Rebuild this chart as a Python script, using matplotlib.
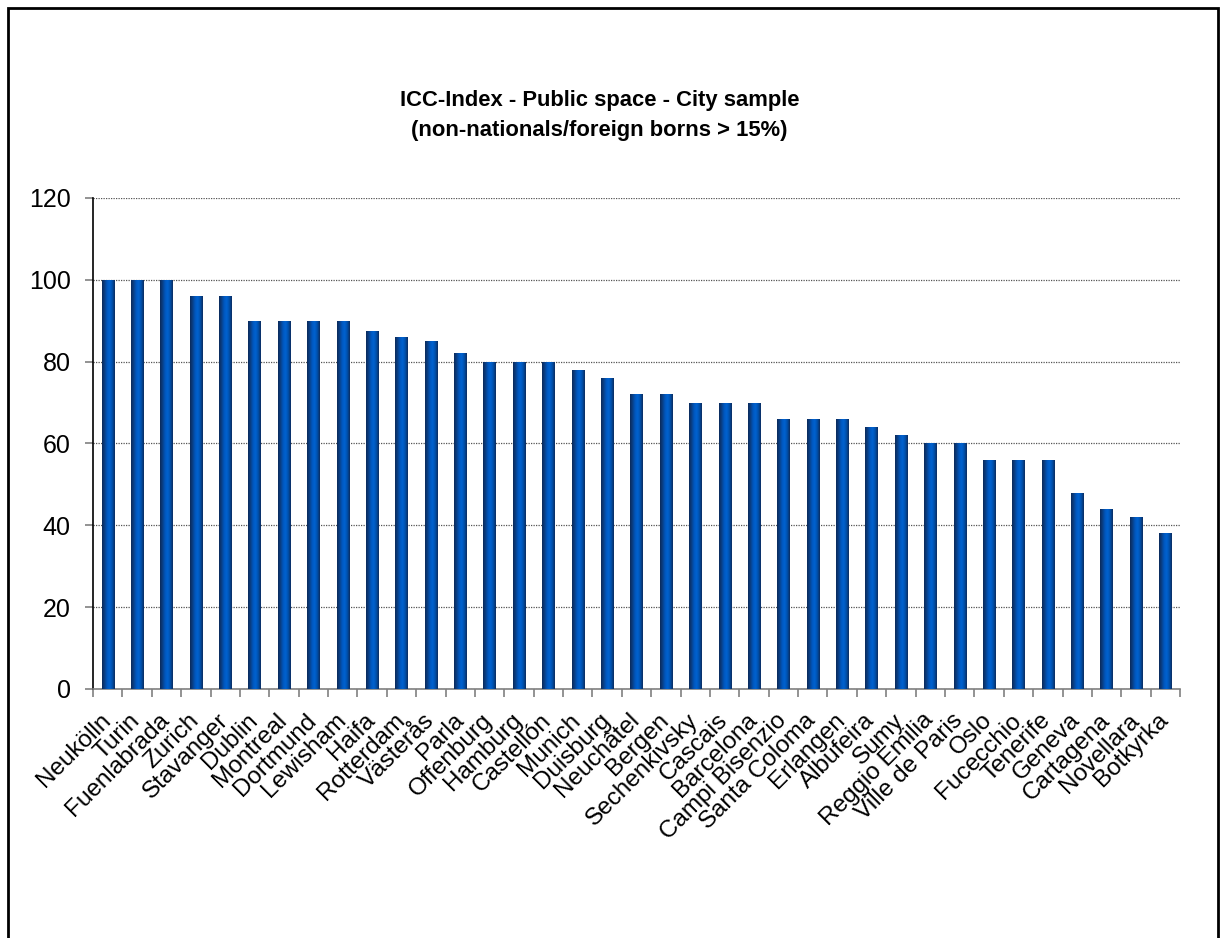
import matplotlib
matplotlib.use("Agg")
import matplotlib.pyplot as plt
import matplotlib.transforms as mtransforms
import numpy as np
from matplotlib.colors import LinearSegmentedColormap
from matplotlib.patches import Rectangle

plt.rcParams['font.family'] = ['Liberation Sans', 'DejaVu Sans']

cities = ['Neukölln', 'Turin', 'Fuenlabrada', 'Zurich', 'Stavanger', 'Dublin',
          'Montreal', 'Dortmund', 'Lewisham', 'Haifa', 'Rotterdam', 'Västerås',
          'Parla', 'Offenburg', 'Hamburg', 'Castellón', 'Munich', 'Duisburg',
          'Neuchâtel', 'Bergen', 'Sechenkivsky', 'Cascais', 'Barcelona',
          'Campi Bisenzio', 'Santa Coloma', 'Erlangen', 'Albufeira', 'Sumy',
          'Reggio Emilia', 'Ville de Paris', 'Oslo', 'Fucecchio', 'Tenerife',
          'Geneva', 'Cartagena', 'Novellara', 'Botkyrka']
scores = [100, 100, 100, 96, 96, 90, 90, 90, 90, 87.5, 86, 85, 82, 80, 80, 80,
          78, 76, 72, 72, 70, 70, 70, 66, 66, 66, 64, 62, 60, 60, 56, 56, 56,
          48, 44, 42, 38]

title = 'ICC-Index - Public space - City sample\n(non-nationals/foreign borns > 15%)'

fig = plt.figure(figsize=(12.26, 9.38), dpi=100)
ax = fig.add_axes([0.0759, 0.2655, 0.8866, 0.5235])

x = np.arange(len(cities))
bar_w = 0.42
bars = ax.bar(x, scores, width=bar_w, color='#0050a8', zorder=2)

# horizontal shading across each bar: dark edges, bright middle
shade = LinearSegmentedColormap.from_list(
    'shade', ['#0b2a5a', '#0a3f85', '#0058c0', '#0062d0', '#0050aa', '#0b2d60'])
grad = np.linspace(0, 1, 64).reshape(1, -1)
for b in bars:
    x0, w, h = b.get_x(), b.get_width(), b.get_height()
    im = ax.imshow(grad, cmap=shade, aspect='auto', extent=(x0, x0 + w, 0, h),
                   zorder=3, interpolation='bilinear')
    im.set_clip_path(b)

ax.set_xlim(-0.5, len(cities) - 0.5)
ax.set_ylim(0, 120)
ax.set_yticks(range(0, 121, 20))
ax.yaxis.grid(True, linestyle=(0, (1, 1)), color='#555555', linewidth=0.9, zorder=1)
ax.set_axisbelow(True)

ax.set_xticks(x)
ax.set_xticklabels(cities, rotation=45, ha='right', rotation_mode='anchor', fontsize=17.5)
ax.tick_params(axis='x', length=0, pad=6)
# nudge the rotated city names down and left
shift = mtransforms.ScaledTranslation(-8 / 100, -12 / 100, fig.dpi_scale_trans)
for lbl in ax.get_xticklabels():
    lbl.set_transform(lbl.get_transform() + shift)
ax.set_xticks(np.arange(-0.5, len(cities)), minor=True)
ax.tick_params(axis='x', which='minor', length=6, color='#808080', width=1.2)
ax.tick_params(axis='y', labelsize=18, length=6, width=1.2, color='#808080', pad=10)

for side in ('top', 'right'):
    ax.spines[side].set_visible(False)
ax.spines['left'].set_color('black')
ax.spines['left'].set_linewidth(1.2)
ax.spines['bottom'].set_color('#808080')
ax.spines['bottom'].set_linewidth(1.2)

fig.text(0.489, 0.877, title, ha='center', va='center', fontsize=15.8,
         fontweight='bold', linespacing=1.55)

# outer chart border
fig.patches.append(Rectangle((0.0065, -0.05), 0.987, 1.0415, transform=fig.transFigure,
                             fill=False, edgecolor='black', linewidth=2))

fig.savefig('out.png', dpi=100)
